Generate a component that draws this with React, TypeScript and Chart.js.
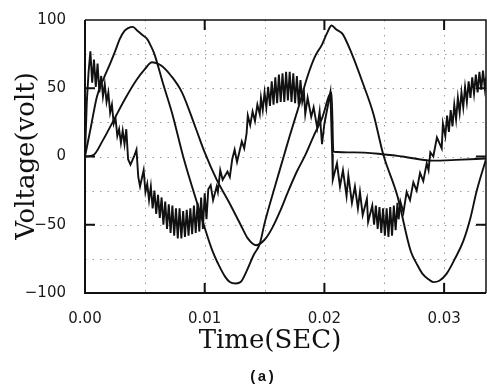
import React, { useEffect, useRef } from 'react';
import { Chart, registerables } from 'chart.js';

Chart.register(...registerables);

// Large sinusoid (source voltage)
const A_T = [0, 0.0005, 0.001, 0.0016, 0.0021, 0.0026, 0.0029, 0.0033, 0.0036, 0.004, 0.0044, 0.0048, 0.0052, 0.0055, 0.0058, 0.0065, 0.0073, 0.0082, 0.0094, 0.0106, 0.0112, 0.0117, 0.0121, 0.0126, 0.013, 0.0135, 0.0141, 0.0146, 0.015, 0.0158, 0.0166, 0.0171, 0.0178, 0.0186, 0.0192, 0.0198, 0.0202, 0.0206, 0.021, 0.0215, 0.0223, 0.0232, 0.0241, 0.0249, 0.0261, 0.0272, 0.0278, 0.0282, 0.0287, 0.0291, 0.0296, 0.0302, 0.0309, 0.0316, 0.0322, 0.0327, 0.0335];
const A_V = [0, 22, 44, 58, 68, 79, 86, 92, 94, 95, 92, 89, 86, 81, 75, 54, 31, 0, -35, -68, -80, -88, -92, -93, -92, -84, -72, -64, -49, -24, 0, 15, 35, 59, 73, 82, 90, 96, 93, 90, 75, 54, 31, 2, -29, -69, -80, -86, -90, -92, -91, -86, -75, -62, -45, -26, -2];

// Medium sinusoid (drops to ~0 after t = 0.0206)
const B_T = [0, 0.0007, 0.0015, 0.0023, 0.0034, 0.0043, 0.005, 0.0056, 0.0063, 0.0072, 0.0081, 0.0092, 0.01, 0.011, 0.012, 0.013, 0.0136, 0.0143, 0.015, 0.0156, 0.0163, 0.017, 0.0177, 0.0184, 0.0191, 0.0198, 0.0206, 0.02075, 0.0225, 0.0245, 0.0265, 0.029, 0.031, 0.0335];
const B_V = [0, 1, 12, 25, 43, 56, 64, 69, 67, 59, 47, 22, 3, -17, -33, -50, -60, -65, -61, -53, -40, -25, -11, 1, 15, 28, 47, 3.5, 3, 2, 0, -3, -2.5, -1.5];

// Rippled waveform
const C_T = [0, 0.00015, 0.0003, 0.00045, 0.0006, 0.00075, 0.0009, 0.00105, 0.0012, 0.00135, 0.0015, 0.00165, 0.0018, 0.00195, 0.0021, 0.00225, 0.0024, 0.00255, 0.0027, 0.00285, 0.003, 0.00315, 0.0033, 0.00345, 0.0036, 0.0038, 0.0041, 0.0043, 0.00445, 0.0046, 0.0049, 0.00505, 0.0052, 0.00535, 0.0055, 0.00565, 0.0058, 0.00595, 0.0061, 0.00625, 0.0064, 0.00655, 0.0067, 0.00685, 0.007, 0.00715, 0.0073, 0.00745, 0.0076, 0.00775, 0.0079, 0.00805, 0.0082, 0.00835, 0.0085, 0.00865, 0.0088, 0.00895, 0.0091, 0.00925, 0.0094, 0.00955, 0.0097, 0.00985, 0.01, 0.01015, 0.0103, 0.0105, 0.0107, 0.011, 0.0111, 0.0113, 0.0115, 0.0119, 0.0121, 0.0123, 0.0125, 0.0127, 0.0131, 0.0133, 0.0135, 0.0136, 0.0138, 0.014, 0.0142, 0.0144, 0.0146, 0.0147, 0.01485, 0.015, 0.01515, 0.0153, 0.01545, 0.0156, 0.01575, 0.0159, 0.01605, 0.0162, 0.01635, 0.0165, 0.01665, 0.0168, 0.01695, 0.0171, 0.01725, 0.0174, 0.01755, 0.0177, 0.01785, 0.018, 0.01815, 0.0183, 0.0184, 0.0186, 0.0189, 0.0191, 0.0194, 0.0196, 0.0198, 0.02, 0.0205, 0.02065, 0.0207, 0.02105, 0.0213, 0.02155, 0.02185, 0.022, 0.0223, 0.02255, 0.0228, 0.02297, 0.0232, 0.02355, 0.02365, 0.024, 0.02415, 0.0243, 0.02445, 0.0246, 0.02475, 0.0249, 0.02505, 0.0252, 0.02535, 0.0255, 0.02565, 0.0258, 0.02595, 0.0261, 0.0262, 0.02635, 0.0266, 0.02687, 0.02715, 0.02743, 0.02771, 0.02799, 0.02826, 0.02855, 0.0287, 0.02885, 0.0291, 0.0294, 0.0298, 0.0299, 0.0301, 0.03025, 0.0304, 0.03055, 0.0307, 0.03085, 0.031, 0.03115, 0.0313, 0.03145, 0.0316, 0.03175, 0.0319, 0.03205, 0.0322, 0.03235, 0.0325, 0.03265, 0.0328, 0.03295, 0.0331, 0.03325, 0.0334, 0.0335];
const C_V = [0, 40, 62, 77, 54, 71, 51, 68, 47, 59, 44, 53, 40, 47, 32, 38, 24, 28, 15, 20, 10, 19, 9, 20, -2, -6, 0, 5, -15, -22, -10, -26, -20, -32, -22, -38, -25, -42, -28, -45, -30, -50, -33, -53, -35, -56, -36, -58, -38, -60, -38, -60, -40, -59, -39, -58, -38, -57, -36, -56, -34, -55, -30, -53, -27, -46, -24, -21, -32, -22, -26, -10, -17, -11, -15, -2, 5, -4, 11, 6, 17, 30, 23, 33, 26, 38, 31, 43, 34, 47, 36, 51, 37, 55, 38, 58, 39, 60, 40, 61, 40, 62, 41, 62, 40, 61, 39, 59, 38, 56, 40, 46, 31, 43, 29, 36, 21, 33, 9, 24, 47, 2, -17, -5, -22, -10, -29, -14, -34, -22, -38, -26, -43, -31, -48, -36, -50, -36, -53, -37, -56, -38, -58, -38, -59, -37, -58, -36, -54, -34, -46, -33, -41, -26, -32, -19, -25, -12, -18, -5, -10, 3, 0, 14, 6, 24, 15, 30, 18, 34, 22, 38, 27, 43, 32, 47, 36, 51, 40, 55, 43, 58, 46, 60, 47, 62, 49, 63, 50, 58];

// Axes
const X_MIN = 0;
const X_MAX = 0.0335;
const Y_MIN = -100;
const Y_MAX = 100;
const X_TICKS = [0, 0.01, 0.02, 0.03];
const X_TICK_LABELS = ['0.00', '0.01', '0.02', '0.03'];
const Y_TICKS = [-100, -50, 0, 50, 100];
const Y_TICK_LABELS = ['\u2212100', '\u221250', '0', '50', '100'];
const X_GRID = [0.005, 0.01, 0.015, 0.02, 0.025, 0.03];
const Y_GRID = [-75, -50, -25, 0, 25, 50, 75];
const X_MAJOR = [0.01, 0.02, 0.03];
const Y_MAJOR = [-50, 0, 50];
const X_TITLE = 'Time(SEC)';
const Y_TITLE = 'Voltage(volt)';
const CAPTION = '(a)';

const INK = '#111';

const pairs = (ts: number[], vs: number[]) => ts.map((t, i) => ({ x: t, y: vs[i] }));

const framePlugin = {
  id: 'frameAndText',
  beforeDatasetsDraw(chart: any) {
    const { ctx, chartArea } = chart;
    const { left, right, top, bottom } = chartArea;
    const xs = chart.scales.x;
    const ys = chart.scales.y;
    ctx.save();
    ctx.strokeStyle = '#9a9a9a';
    ctx.lineWidth = 1;
    ctx.setLineDash([1.5, 6]);
    X_GRID.forEach((v) => {
      const px = Math.round(xs.getPixelForValue(v)) + 0.5;
      ctx.beginPath();
      ctx.moveTo(px, top);
      ctx.lineTo(px, bottom);
      ctx.stroke();
    });
    Y_GRID.forEach((v) => {
      const py = Math.round(ys.getPixelForValue(v)) + 0.5;
      ctx.beginPath();
      ctx.moveTo(left, py);
      ctx.lineTo(right, py);
      ctx.stroke();
    });
    ctx.restore();
  },
  afterDatasetsDraw(chart: any) {
    const { ctx, chartArea } = chart;
    const { left, right, top, bottom } = chartArea;
    const xs = chart.scales.x;
    const ys = chart.scales.y;
    ctx.save();
    ctx.setLineDash([]);
    ctx.strokeStyle = INK;
    ctx.lineWidth = 2;
    ctx.beginPath();
    ctx.moveTo(left, top);
    ctx.lineTo(left, bottom);
    ctx.lineTo(right, bottom);
    ctx.stroke();
    ctx.lineWidth = 1.5;
    ctx.beginPath();
    ctx.moveTo(left, top);
    ctx.lineTo(right, top);
    ctx.lineTo(right, bottom);
    ctx.stroke();
    ctx.lineWidth = 2;
    const TL = 10;
    X_MAJOR.forEach((v) => {
      const px = xs.getPixelForValue(v);
      ctx.beginPath();
      ctx.moveTo(px, bottom);
      ctx.lineTo(px, bottom - TL);
      ctx.moveTo(px, top);
      ctx.lineTo(px, top + TL);
      ctx.stroke();
    });
    Y_MAJOR.forEach((v) => {
      const py = ys.getPixelForValue(v);
      ctx.beginPath();
      ctx.moveTo(left, py);
      ctx.lineTo(left + TL, py);
      ctx.moveTo(right, py);
      ctx.lineTo(right - TL, py);
      ctx.stroke();
    });
    ctx.fillStyle = INK;
    ctx.font = '26px "DejaVu Serif"';
    ctx.textAlign = 'center';
    ctx.textBaseline = 'alphabetic';
    ctx.fillText(X_TITLE, 270, 348);
    ctx.save();
    ctx.translate(34, 156);
    ctx.rotate(-Math.PI / 2);
    ctx.fillText(Y_TITLE, 0, 0);
    ctx.restore();
    ctx.font = 'bold 15px "Liberation Mono"';
    ctx.fillText(CAPTION, 262, 381);
    ctx.restore();
  },
};

export default function App() {
  const ref = useRef<HTMLCanvasElement>(null);
  useEffect(() => {
    if (!ref.current) return;
    const lineStyle = {
      borderColor: INK,
      borderWidth: 1.9,
      pointRadius: 0,
      fill: false,
    };
    const chart = new Chart(ref.current, {
      type: 'line',
      data: {
        datasets: [
          { ...lineStyle, label: 'C', data: pairs(C_T, C_V), tension: 0 },
          { ...lineStyle, label: 'A', data: pairs(A_T, A_V), cubicInterpolationMode: 'monotone' },
          { ...lineStyle, label: 'B', data: pairs(B_T, B_V), cubicInterpolationMode: 'monotone' },
        ] as any,
      },
      options: {
        responsive: false,
        animation: false,
        events: [],
        layout: { padding: { top: 13, right: 1, left: 0, bottom: 0 } },
        plugins: { legend: { display: false }, tooltip: { enabled: false }, title: { display: false } },
        scales: {
          x: {
            type: 'linear',
            min: X_MIN,
            max: X_MAX,
            grid: { display: false },
            border: { display: false },
            afterBuildTicks: (scale: any) => {
              scale.ticks = X_TICKS.map((value) => ({ value }));
            },
            afterFit: (scale: any) => {
              scale.height = 97;
            },
            ticks: {
              autoSkip: false,
              maxRotation: 0,
              padding: 9,
              color: '#1a1a1a',
              font: { family: '"DejaVu Sans"', size: 15 },
              callback: (value: any) => X_TICK_LABELS[X_TICKS.indexOf(Number(value))] ?? '',
            },
          },
          y: {
            type: 'linear',
            min: Y_MIN,
            max: Y_MAX,
            grid: { display: false },
            border: { display: false },
            afterBuildTicks: (scale: any) => {
              scale.ticks = Y_TICKS.map((value) => ({ value }));
            },
            afterFit: (scale: any) => {
              scale.width = 85;
            },
            ticks: {
              autoSkip: false,
              padding: 11,
              color: '#1a1a1a',
              font: { family: '"DejaVu Sans"', size: 15 },
              callback: (value: any) => Y_TICK_LABELS[Y_TICKS.indexOf(Number(value))] ?? '',
            },
          },
        },
      },
      plugins: [framePlugin],
    });
    return () => chart.destroy();
  }, []);
  return (
    <div style={{ position: 'absolute', left: 0, top: 0, width: 487, height: 390, background: '#fff' }}>
      <canvas ref={ref} width={487} height={390} style={{ display: 'block' }} />
    </div>
  );
}
